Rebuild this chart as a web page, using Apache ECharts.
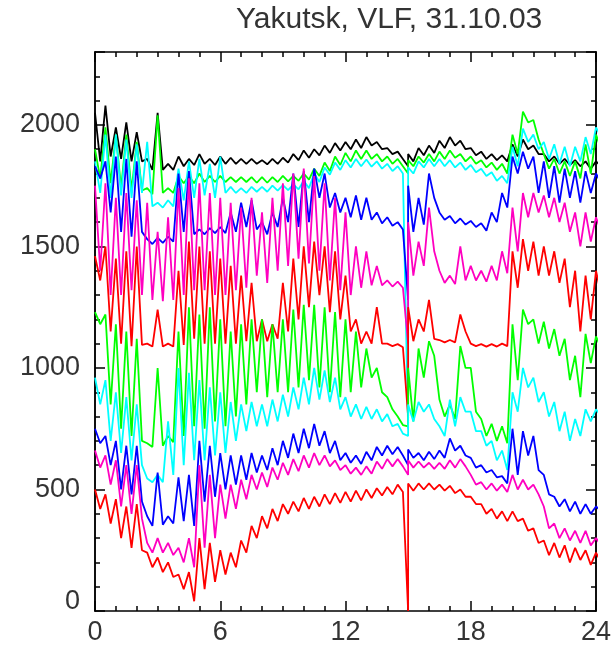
<!DOCTYPE html>
<html>
<head>
<meta charset="utf-8">
<script src="https://cdn.jsdelivr.net/npm/echarts@6/dist/echarts.min.js"></script>
<style>
  html, body { margin: 0; padding: 0; background: #fff; }
  #chart { width: 616px; height: 666px; }
</style>
</head>
<body>
<div id="chart"></div>
<script>
// Start of each half-hour bin, UT hours
const binHours = [0, 0.5, 1, 1.5, 2, 2.5, 3, 3.5, 4, 4.5, 5, 5.5, 6, 6.5, 7, 7.5, 8, 8.5, 9, 9.5,
  10, 10.5, 11, 11.5, 12, 12.5, 13, 13.5, 14, 14.5, 15, 15.5, 16, 16.5, 17, 17.5, 18, 18.5, 19, 19.5,
  20, 20.5, 21, 21.5, 22, 22.5, 23, 23.5, 24];

// Per-bin maximum / minimum of each VLF channel amplitude (stacked with offsets)
const blackHi = [2050, 2080, 1990, 2010, 1970, 1860, 2050, 1840, 1870, 1860, 1880, 1860, 1870, 1865, 1860, 1860, 1855, 1860, 1865, 1880,
  1895, 1900, 1915, 1925, 1930, 1940, 1950, 1930, 1905, 1890, 1880, 1905, 1915, 1935, 1950, 1935, 1905, 1890, 1880, 1875,
  1920, 1940, 1915, 1880, 1870, 1860, 1855, 1850, 1850];
const blackLo = [1850, 1870, 1860, 1850, 1850, 1815, 1815, 1815, 1830, 1835, 1840, 1835, 1840, 1840, 1840, 1840, 1838, 1840, 1845, 1855,
  1865, 1875, 1885, 1895, 1900, 1905, 1915, 1900, 1880, 1860, 1850, 1875, 1885, 1905, 1915, 1900, 1875, 1860, 1855, 1850,
  1870, 1900, 1880, 1850, 1840, 1835, 1830, 1820, 1830];

const green1Hi = [1900, 1990, 1960, 1960, 1930, 1740, 2040, 1740, 1790, 1790, 1800, 1790, 1790, 1785, 1785, 1785, 1785, 1785, 1790, 1790,
  1800, 1820, 1845, 1870, 1885, 1895, 1895, 1880, 1870, 1860, 1855, 1870, 1880, 1890, 1895, 1880, 1870, 1855, 1845, 1840,
  1960, 2055, 2020, 1880, 1860, 1850, 1850, 1920, 1960];
const green1Lo = [1780, 1760, 1740, 1730, 1730, 1715, 1720, 1720, 1760, 1760, 1765, 1765, 1765, 1765, 1765, 1762, 1762, 1765, 1768, 1770,
  1775, 1790, 1810, 1835, 1850, 1860, 1860, 1850, 1840, 1830, 1830, 1845, 1850, 1860, 1865, 1850, 1840, 1825, 1815, 1800,
  1880, 2010, 1940, 1820, 1800, 1790, 1780, 1800, 1900];

const cyan1Hi = [1850, 1960, 1960, 1940, 1920, 1930, 1680, 1690, 1820, 1850, 1860, 1840, 1870, 1745, 1740, 1745, 1745, 1750, 1752, 1755,
  1770, 1800, 1825, 1845, 1855, 1860, 1858, 1850, 1840, 1830, 1825, 1850, 1860, 1860, 1855, 1845, 1835, 1820, 1805, 1790,
  1910, 1985, 1960, 1930, 1920, 1910, 1910, 1950, 1990];
const cyan1Lo = [1720, 1700, 1710, 1700, 1720, 1665, 1660, 1665, 1690, 1700, 1710, 1700, 1720, 1720, 1720, 1725, 1725, 1730, 1732, 1735,
  1740, 1765, 1795, 1815, 1825, 1830, 1828, 1820, 1810, 1800, 1800, 1825, 1830, 1830, 1825, 1815, 1805, 1790, 1770, 1760,
  1830, 1930, 1900, 1860, 1840, 1830, 1850, 1880, 1950];

const blue1Hi = [1830, 1850, 1870, 1860, 1850, 1530, 1535, 1540, 1800, 1810, 1570, 1575, 1580, 1640, 1680, 1690, 1600, 1640, 1700, 1800,
  1810, 1820, 1800, 1720, 1700, 1710, 1700, 1640, 1620, 1600, 1750, 1700, 1800, 1640, 1625, 1615, 1605, 1595, 1640, 1720,
  1870, 1890, 1870, 1850, 1830, 1820, 1810, 1810, 1800];
const blue1Lo = [1780, 1640, 1560, 1540, 1560, 1510, 1515, 1520, 1560, 1550, 1550, 1555, 1555, 1560, 1580, 1570, 1550, 1580, 1600, 1580,
  1600, 1700, 1660, 1640, 1620, 1610, 1610, 1595, 1585, 1570, 1560, 1590, 1700, 1610, 1595, 1590, 1580, 1565, 1600, 1660,
  1800, 1820, 1720, 1700, 1680, 1700, 1680, 1720, 1760];

const magenta1Hi = [1750, 1760, 1700, 1720, 1690, 1680, 1560, 1620, 1740, 1780, 1760, 1720, 1700, 1680, 1660, 1700, 1640, 1700, 1760, 1800,
  1820, 1790, 1760, 1700, 1640, 1500, 1480, 1420, 1360, 1355, 1600, 1520, 1660, 1400, 1380, 1500, 1420, 1400, 1420, 1480,
  1660, 1720, 1720, 1710, 1700, 1680, 1640, 1640, 1620];
const magenta1Lo = [1400, 1300, 1300, 1320, 1300, 1280, 1275, 1280, 1300, 1320, 1320, 1300, 1300, 1320, 1330, 1380, 1350, 1400, 1420, 1450,
  1430, 1400, 1360, 1320, 1300, 1330, 1340, 1340, 1335, 1330, 1380, 1420, 1480, 1350, 1345, 1360, 1360, 1355, 1360, 1390,
  1480, 1620, 1640, 1620, 1600, 1560, 1500, 1520, 1560];

const red1Hi = [1460, 1500, 1450, 1480, 1500, 1100, 1240, 1100, 1400, 1520, 1500, 1480, 1450, 1420, 1380, 1350, 1200, 1180, 1350, 1450,
  1500, 1520, 1500, 1480, 1380, 1200, 1150, 1250, 1100, 1098, 1250, 1200, 1280, 1115, 1115, 1220, 1100, 1098, 1098, 1100,
  1480, 1530, 1520, 1500, 1480, 1450, 1400, 1380, 1400];
const red1Lo = [1360, 1150, 1100, 1090, 1095, 1088, 1088, 1088, 1095, 1120, 1100, 1100, 1100, 1100, 1110, 1110, 1110, 1120, 1150, 1200,
  1250, 1300, 1230, 1200, 1150, 1100, 1100, 1100, 1090, 1085, 1110, 1150, 1120, 1105, 1105, 1150, 1090, 1088, 1088, 1090,
  1330, 1400, 1380, 1380, 1350, 1250, 1150, 1200, 1300];

const green2Hi = [1230, 1220, 1180, 1150, 1120, 690, 1000, 720, 1150, 1250, 1220, 1250, 1200, 1150, 1180, 1200, 1200, 1180, 1200, 1240,
  1260, 1260, 1250, 1230, 1200, 1150, 1080, 1000, 880, 800, 1000, 1080, 1110, 870, 850, 1090, 1000, 790, 770, 760,
  1180, 1240, 1200, 1190, 1160, 1120, 1050, 1140, 1130];
const green2Lo = [1180, 850, 750, 720, 700, 675, 680, 695, 720, 760, 750, 780, 760, 800, 850, 900, 880, 900, 900, 920,
  950, 920, 900, 880, 900, 920, 960, 900, 830, 765, 780, 960, 1050, 800, 790, 1000, 820, 720, 700, 690,
  950, 1180, 1100, 1080, 1050, 950, 880, 1020, 1080];

const cyan2Hi = [960, 950, 900, 880, 850, 545, 560, 780, 1000, 980, 950, 920, 900, 860, 850, 860, 850, 870, 890, 920,
  960, 1000, 990, 960, 880, 850, 840, 830, 810, 770, 850, 860, 850, 760, 870, 880, 820, 740, 700, 660,
  900, 1000, 960, 900, 860, 820, 790, 830, 830];
const cyan2Lo = [850, 700, 650, 620, 600, 530, 530, 560, 600, 620, 620, 640, 650, 700, 740, 760, 760, 780, 800, 830,
  850, 870, 860, 830, 800, 790, 790, 780, 760, 730, 780, 820, 790, 720, 760, 820, 740, 680, 620, 580,
  820, 920, 860, 800, 740, 700, 720, 780, 800];

const blue2Hi = [750, 720, 700, 680, 680, 390, 570, 390, 550, 560, 700, 680, 650, 640, 640, 650, 640, 670, 700, 730,
  750, 770, 740, 700, 650, 640, 655, 675, 680, 675, 665, 650, 655, 660, 710, 680, 630, 600, 580, 555,
  750, 740, 720, 560, 470, 460, 450, 440, 430];
const blue2Lo = [690, 600, 500, 480, 450, 350, 355, 360, 370, 350, 450, 470, 500, 520, 540, 570, 580, 600, 630, 650,
  670, 680, 650, 620, 610, 605, 620, 640, 645, 640, 630, 620, 625, 630, 660, 640, 590, 570, 550, 525,
  560, 640, 580, 480, 430, 410, 400, 400, 410];

const magenta2Hi = [660, 640, 620, 600, 600, 280, 300, 280, 260, 300, 600, 560, 520, 520, 540, 560, 570, 590, 610, 625,
  640, 650, 640, 620, 600, 590, 595, 615, 625, 625, 620, 615, 610, 610, 620, 625, 560, 530, 525, 520,
  560, 540, 520, 430, 360, 340, 330, 330, 300];
const magenta2Lo = [590, 520, 430, 400, 380, 240, 240, 230, 200, 180, 260, 300, 380, 420, 460, 500, 510, 540, 560, 575,
  590, 600, 595, 580, 565, 560, 565, 585, 595, 595, 590, 590, 585, 585, 590, 595, 520, 500, 495, 490,
  500, 500, 480, 340, 300, 290, 280, 270, 270];

const red2Hi = [500, 480, 460, 430, 440, 240, 220, 200, 150, 160, 300, 280, 250, 240, 290, 350, 390, 420, 440, 450,
  465, 470, 480, 485, 490, 495, 500, 505, 510, 520, 525, 525, 525, 520, 515, 500, 470, 440, 420, 410,
  410, 380, 340, 290, 280, 270, 260, 250, 240];
const red2Lo = [420, 360, 300, 260, 250, 180, 160, 140, 90, 40, 90, 120, 150, 180, 240, 300, 340, 370, 400, 410,
  420, 430, 440, 445, 450, 455, 465, 475, 480, 490, 495, 500, 500, 495, 485, 470, 440, 400, 380, 370,
  370, 330, 280, 230, 220, 200, 210, 190, 200];

// One-sample dropout of every channel at 15 UT, in trace order
const dropoutHour = 15;
const dropoutValues = [1830, 1800, 750, 1280, 1100, 800, 760, 720, 600, 560, 0];

const traceColors = ['#000000', '#00ff00', '#00ffff', '#0000ff', '#ff00c0', '#ff0000',
  '#00ff00', '#00ffff', '#0000ff', '#ff00c0', '#ff0000'];
const traceHi = [blackHi, green1Hi, cyan1Hi, blue1Hi, magenta1Hi, red1Hi, green2Hi, cyan2Hi, blue2Hi, magenta2Hi, red2Hi];
const traceLo = [blackLo, green1Lo, cyan1Lo, blue1Lo, magenta1Lo, red1Lo, green2Lo, cyan2Lo, blue2Lo, magenta2Lo, red2Lo];

const xTickLabels = ['0', '6', '12', '18', '24'];
const yTickLabels = ['0', '500', '1000', '1500', '2000'];

// Within each bin the maximum is placed at the bin start, the minimum a quarter hour later
const minOffset = 0.25;

function envelopeLine(hi, lo, drop) {
  const pts = [];
  for (let i = 0; i < binHours.length; i++) {
    const t = binHours[i];
    if (t === dropoutHour) pts.push([dropoutHour, drop]);
    pts.push([t, hi[i]]);
    pts.push([t + minOffset, lo[i]]);
  }
  return pts;
}

const series = traceHi.map((hi, k) => ({
  type: 'line',
  xAxisIndex: 0,
  yAxisIndex: 0,
  data: envelopeLine(hi, traceLo[k], dropoutValues[k]),
  showSymbol: false,
  symbol: 'none',
  clip: true,
  lineStyle: { color: traceColors[k], width: 1.8 },
  z: 2 + k
}));

const labelFont = { fontFamily: 'Liberation Sans', fontSize: 27, color: '#333' };
const frameLine = { show: true, onZero: false, lineStyle: { color: '#000', width: 1.5 } };

function xAxisDef(pos, withLabels) {
  return {
    type: 'value', position: pos, min: 0, max: 24, interval: 6,
    axisLine: frameLine,
    axisTick: { show: true, inside: true, length: 10, lineStyle: { color: '#000', width: 1.5 } },
    minorTick: { show: true, splitNumber: 6, length: 5, lineStyle: { color: '#000', width: 1.5 } },
    axisLabel: withLabels ? Object.assign({
      show: true, margin: 8,
      formatter: v => xTickLabels[Math.round(v / 6)]
    }, labelFont) : { show: false },
    splitLine: { show: false }, minorSplitLine: { show: false }
  };
}

function yAxisDef(pos, interval, tickLen, withLabels) {
  return {
    type: 'value', position: pos, min: 0, max: 2300, interval: interval,
    axisLine: frameLine,
    axisTick: { show: true, inside: true, length: tickLen, lineStyle: { color: '#000', width: 1.5 } },
    axisLabel: withLabels ? Object.assign({
      show: true, margin: 15, showMaxLabel: true,
      formatter: v => {
        if (v % 500 !== 0) return '';
        const s = yTickLabels[v / 500];
        if (s === undefined) return '';
        return v === 0 ? '{low|' + s + '}' : s;
      },
      rich: { low: Object.assign({ padding: [0, 0, 18, 0] }, labelFont) }
    }, labelFont) : { show: false },
    splitLine: { show: false }
  };
}

const chart = echarts.init(document.getElementById('chart'), null, { renderer: 'canvas' });
chart.setOption({
  animation: false,
  backgroundColor: '#ffffff',
  grid: { left: 95, right: 20, top: 52, bottom: 55, containLabel: false },
  xAxis: [xAxisDef('bottom', true), xAxisDef('top', false)],
  yAxis: [
    yAxisDef('left', 100, 5, true),
    yAxisDef('left', 500, 10, false),
    yAxisDef('right', 100, 5, false),
    yAxisDef('right', 500, 10, false)
  ],
  graphic: [{
    type: 'text', left: 236, top: 5,
    style: { text: 'Yakutsk, VLF, 31.10.03', fontFamily: 'Liberation Sans', fontSize: 30, fill: '#333' }
  }],
  series: series
});
</script>
</body>
</html>
